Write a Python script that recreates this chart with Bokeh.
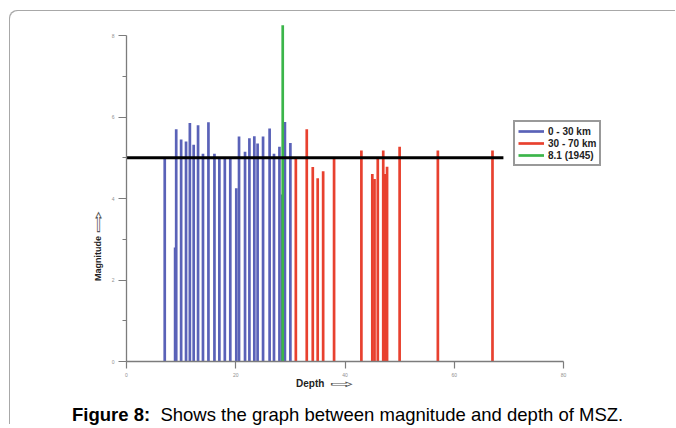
from bokeh.plotting import figure
from bokeh.layouts import column, row
from bokeh.models import (Range1d, LinearAxis, FixedTicker, Legend,
                          LegendItem, ColumnDataSource, Div)
from bokeh.embed import file_html
from bokeh.resources import INLINE

# ---- data ----
shallow_depth = [7.0, 8.9, 9.1, 10.0, 10.9, 11.6, 12.3, 13.1, 14.0, 15.0, 16.1, 17.0,
                 18.0, 19.0, 20.1, 20.6, 21.7, 22.5, 23.4, 24.0, 25.0, 26.2, 27.0,
                 28.0, 28.5, 29.0, 30.0]
shallow_mag = [5.0, 2.8, 5.7, 5.45, 5.4, 5.85, 5.32, 5.8, 5.1, 5.87, 5.1, 4.98,
               5.0, 4.98, 4.25, 5.52, 5.15, 5.48, 5.53, 5.35, 5.52, 5.72, 5.1,
               5.27, 4.1, 5.88, 5.36]
deep_depth = [31.0, 33.0, 34.1, 35.0, 36.0, 38.0, 43.0, 45.0, 45.4, 46.0, 47.0,
              47.3, 47.7, 50.0, 57.0, 67.0]
deep_mag = [4.98, 5.7, 4.77, 4.5, 4.67, 4.97, 5.18, 4.6, 4.48, 4.97, 5.18,
            4.6, 4.78, 5.27, 5.18, 5.18]
event_1945_depth = [28.6]
event_1945_mag = [8.25]
threshold_x = [0.0, 69.0]
threshold_y = [5.0, 5.0]
x_ticks = [0, 20, 40, 60, 80]
y_ticks = [0, 2, 4, 6, 8]
y_minor_ticks = [1, 3, 5, 7]
legend_labels = ["0 - 30 km", "30 - 70 km", "8.1 (1945)"]
x_title = "Depth"
y_title = "Magnitude"
caption_bold = "Figure 8:"
caption_text = "Shows the graph between magnitude and depth of MSZ."

BLUE = "#5a62b8"
RED = "#e8412f"
GREEN = "#3bb54a"
AXIS = "#7c7c7c"

# page geometry
OX, OY = 10, 11            # layout origin on the page
LEFT_W = 96                # width of the y-title strip
FIG_X = OX + LEFT_W        # figure canvas origin x on page
X0_PAGE, PX_PER_X = 126, 5.4625
Y0_PAGE, PX_PER_Y = 361, 40.75
FIG_W, FIG_H = 676 - FIG_X, 369

p = figure(width=FIG_W, height=FIG_H,
           x_range=Range1d(0, (676 - X0_PAGE) / PX_PER_X),
           y_range=Range1d(0, (Y0_PAGE - OY) / PX_PER_Y),
           min_border_left=X0_PAGE - FIG_X, min_border_right=0, min_border_top=0,
           min_border_bottom=FIG_H - (Y0_PAGE - OY),
           toolbar_location=None, output_backend="svg", x_axis_type=None, y_axis_type=None)
p.outline_line_color = None
p.background_fill_color = "white"
p.border_fill_color = "white"

def style_axis(ax):
    ax.axis_line_color = AXIS
    ax.axis_line_width = 1.3
    ax.major_tick_line_color = AXIS
    ax.major_tick_line_width = 1.2
    ax.minor_tick_line_color = AXIS
    ax.minor_tick_line_width = 1.2
    ax.major_tick_in = 0
    ax.major_tick_out = 8
    ax.minor_tick_in = 0
    ax.minor_tick_out = 4
    ax.major_label_text_font_size = "5px"
    ax.major_label_text_color = "#909090"
    ax.major_label_text_font = "Liberation Sans"
    ax.major_label_standoff = 5

yaxis = LinearAxis(bounds=(0, 8), ticker=FixedTicker(ticks=y_ticks, minor_ticks=y_minor_ticks))
style_axis(yaxis)
yaxis.major_label_standoff = 4
xaxis = LinearAxis(bounds=(0, 80), ticker=FixedTicker(ticks=x_ticks))
style_axis(xaxis)
xaxis.minor_tick_out = 0
xaxis.major_tick_out = 7
xaxis.major_label_standoff = 4
p.add_layout(yaxis, "left")
p.add_layout(xaxis, "below")

src_s = ColumnDataSource(dict(d=shallow_depth, m=shallow_mag))
src_d = ColumnDataSource(dict(d=deep_depth, m=deep_mag))
src_g = ColumnDataSource(dict(d=event_1945_depth, m=event_1945_mag))

r_blue = p.segment(x0="d", y0=0, x1="d", y1="m", source=src_s, line_color=BLUE, line_width=2.7)
r_red = p.segment(x0="d", y0=0, x1="d", y1="m", source=src_d, line_color=RED, line_width=2.7)
r_green = p.segment(x0="d", y0=0, x1="d", y1="m", source=src_g, line_color=GREEN, line_width=2.7)
p.line(threshold_x, threshold_y, line_color="black", line_width=3)

legend = Legend(items=[LegendItem(label=legend_labels[0], renderers=[r_blue]),
                       LegendItem(label=legend_labels[1], renderers=[r_red]),
                       LegendItem(label=legend_labels[2], renderers=[r_green])],
                location=(513 - X0_PAGE, Y0_PAGE - 166))
legend.label_text_font = "Liberation Sans"
legend.label_text_font_style = "bold"
legend.label_text_font_size = "10px"
legend.label_text_color = "#222222"
legend.glyph_width = 26
legend.glyph_height = 12
legend.label_height = 12
legend.label_standoff = 4
legend.spacing = 0
legend.padding = 3
legend.margin = 0
legend.border_line_color = "#333333"
legend.border_line_width = 2
legend.background_fill_alpha = 1
p.add_layout(legend)

# y-axis title strip (rotated HTML text)
ytitle_html = (
    '<div style="position:relative;width:%dpx;height:%dpx;">'
    '<span style="position:absolute;left:%.1fpx;top:%dpx;font-family:\'Liberation Sans\',Arial,sans-serif;'
    'font-size:9px;line-height:9px;font-weight:bold;color:#222;white-space:nowrap;'
    'transform-origin:0 0;transform:rotate(-90deg);">%s</span>'
    '<span style="position:absolute;left:%.1fpx;top:%dpx;font-family:\'DejaVu Sans\';'
    'font-size:14px;line-height:14px;color:#555;white-space:nowrap;display:inline-block;'
    'transform-origin:0 0;transform:rotate(-90deg) scaleX(2.0);">&#x21E8;</span>'
    '</div>'
) % (LEFT_W, FIG_H, 102 - OX - 7.6, 281 - OY, y_title, 98 - OX - 6.8, 233 - OY)
ytitle = Div(text=ytitle_html, width=LEFT_W, height=FIG_H, margin=0)

# x-axis title and caption as HTML below the plot
div_top = OY + FIG_H
html = (
    '<div style="position:relative;width:%dpx;height:45px;font-family:\'Liberation Sans\',Arial,sans-serif;">'
    '<span style="position:absolute;left:%dpx;top:%dpx;font-size:10px;line-height:10px;'
    'font-weight:bold;color:#222;white-space:nowrap;">%s</span>'
    '<span style="position:absolute;left:%dpx;top:%dpx;font-size:12px;line-height:12px;'
    'font-family:\'DejaVu Sans\';color:#555;display:inline-block;transform:scaleX(2.4);'
    'transform-origin:left center;">&#x21E8;</span>'
    '<span style="position:absolute;left:%dpx;top:%dpx;font-size:18.5px;line-height:18.5px;'
    'color:#000;white-space:nowrap;"><b>%s</b>&nbsp; %s</span>'
    '</div>'
) % (676 - OX, 296 - OX, 387 - 8 - div_top, x_title,
     330 - OX, 384 - 6 - div_top,
     72 - OX, 26, caption_bold, caption_text)
caption = Div(text=html, width=676 - OX, height=45, margin=0)

layout = column(row(ytitle, p, margin=0), caption, width=676 - OX, margin=(OY, 0, 0, OX),
                styles={"border-top-left-radius": "8px",
                        "box-shadow": "-1px -1px 0 0 #a8a8a8"})

open("out.html", "w").write(file_html(layout, INLINE))
